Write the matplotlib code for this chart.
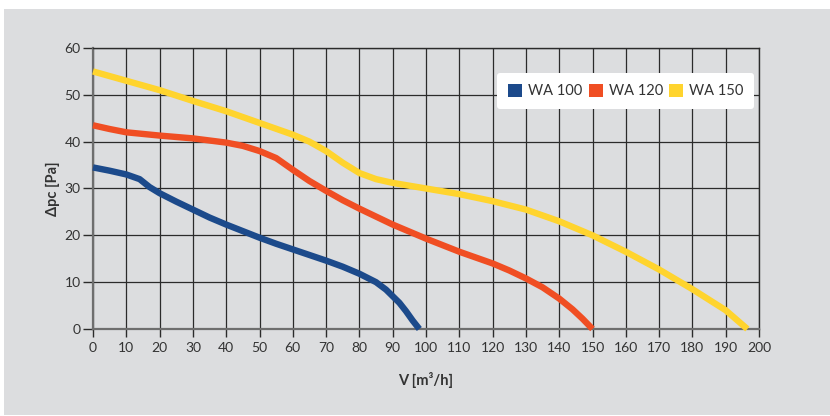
import matplotlib.pyplot as plt
from matplotlib.patches import Rectangle, Patch

# WA 100
v_100 = [0, 5, 10, 14, 17, 20, 25, 30, 35, 40, 45, 50, 55, 60, 65, 70, 75, 80, 85, 88, 90, 92, 94, 96, 98]
p_100 = [34.5, 33.8, 33.0, 32.0, 30.3, 29.0, 27.2, 25.5, 23.8, 22.3, 20.9, 19.5, 18.2, 17.0, 15.8, 14.6, 13.3, 11.8, 10.0, 8.4, 7.0, 5.6, 3.8, 1.8, 0.0]

# WA 120
v_120 = [0, 5, 10, 20, 30, 40, 45, 50, 55, 60, 65, 70, 75, 80, 90, 100, 110, 120, 125, 130, 135, 140, 144, 147, 150]
p_120 = [43.5, 42.7, 42.0, 41.3, 40.7, 39.8, 39.1, 38.0, 36.5, 34.0, 31.6, 29.5, 27.5, 25.7, 22.3, 19.3, 16.5, 14.0, 12.5, 10.8, 8.9, 6.5, 4.2, 2.2, 0.0]

# WA 150
v_150 = [0, 10, 20, 30, 40, 50, 60, 65, 70, 75, 80, 85, 90, 100, 110, 120, 130, 140, 150, 160, 170, 180, 190, 196.5]
p_150 = [55.0, 53.0, 51.0, 48.7, 46.5, 44.0, 41.5, 40.0, 38.0, 35.5, 33.3, 32.0, 31.2, 30.0, 28.8, 27.3, 25.5, 23.0, 20.0, 16.5, 12.7, 8.5, 4.0, 0.0]

labels = ["WA 100", "WA 120", "WA 150"]
colors = ["#1c4a8b", "#f04e23", "#ffd42e"]

x_ticks = list(range(0, 201, 10))
y_ticks = list(range(0, 61, 10))

plt.rcParams['font.family'] = ['Lato', 'DejaVu Sans']

fig = plt.figure(figsize=(8.3, 4.16), dpi=100, facecolor="white")
# grey panel behind the chart
fig.patches.append(Rectangle((4 / 830, 0.002), 1, 1 - 9 / 416 - 0.002,
                             transform=fig.transFigure, facecolor="#dcdddf",
                             edgecolor="none", zorder=-1))

ax = fig.add_axes([93 / 830, 1 - 329 / 416, (759 - 93) / 830, (329 - 48) / 416])
ax.set_facecolor("none")

for v, p, c in [(v_100, p_100, colors[0]), (v_120, p_120, colors[1]), (v_150, p_150, colors[2])]:
    ax.plot(v, p, color=c, lw=4.6, solid_joinstyle="round", solid_capstyle="butt",
            clip_on=False, zorder=3)

ax.set_xlim(0, 200)
ax.set_ylim(0, 60)
ax.set_xticks(x_ticks)
ax.set_yticks(y_ticks)
ax.grid(True, color="#2b2b2b", lw=0.9, zorder=1)
ax.set_axisbelow(True)

for side in ["top", "right"]:
    ax.spines[side].set_color("#2b2b2b")
    ax.spines[side].set_linewidth(1.0)
for side in ["left", "bottom"]:
    ax.spines[side].set_color("#6e6e6e")
    ax.spines[side].set_linewidth(1.6)

ax.tick_params(axis="both", direction="out", length=6, width=1.0, color="#2b2b2b",
               labelsize=10, labelcolor="#333333", pad=3)
ax.tick_params(axis="y", length=7, pad=2)

ax.set_xlabel("V [m³/h]", fontsize=10.5, fontweight="bold", color="#333333", labelpad=13)
ax.set_ylabel("Δpc [Pa]", fontsize=10.5, fontweight="bold", color="#333333", labelpad=3)

handles = [Patch(facecolor=c, edgecolor="none") for c in colors]
leg = ax.legend(handles, labels, loc="upper right", bbox_to_anchor=(0.993, 0.911), ncol=3,
                borderaxespad=0, frameon=True, fancybox=True, fontsize=10.5,
                handlelength=0.95, handleheight=0.95, handletextpad=0.4, columnspacing=0.45,
                borderpad=0.75, labelcolor="#333333")
leg.get_frame().set_facecolor("white")
leg.get_frame().set_edgecolor("none")
leg.get_frame().set_alpha(1)
leg.set_zorder(5)

fig.savefig("out.png", dpi=100, facecolor=fig.get_facecolor())
